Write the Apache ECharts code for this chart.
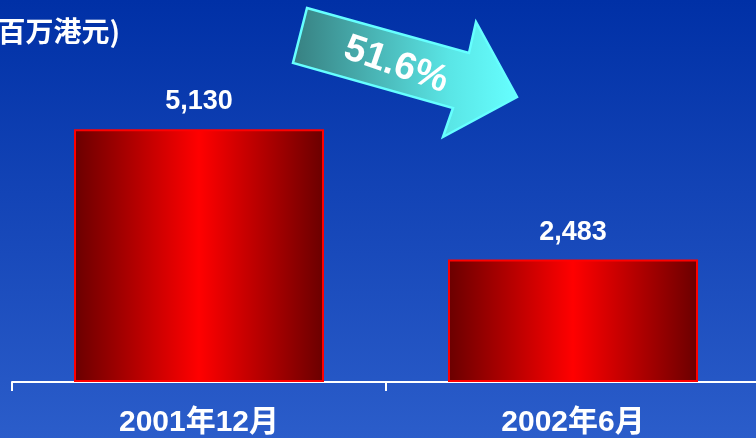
<!DOCTYPE html>
<html><head><meta charset="utf-8">
<script src="https://cdn.jsdelivr.net/npm/echarts@6/dist/echarts.min.js"></script>
<style>html,body{margin:0;padding:0;}#c{width:756px;height:438px;}</style>
</head><body><div id="c"></div>
<script>
var categories = ['2001年12月', '2002年6月'];
var values = [5130, 2483];
var titleText = '(百万港元)';
var changeText = '51.6%';

var chart = echarts.init(document.getElementById('c'));
var barGrad = new echarts.graphic.LinearGradient(0, 0, 1, 0, [
  {offset: 0, color: '#6a0000'},
  {offset: 0.5, color: '#ff0000'},
  {offset: 1, color: '#6a0000'}
]);
chart.setOption({
  animation: false,
  backgroundColor: new echarts.graphic.LinearGradient(0, 0, 0, 1, [
    {offset: 0, color: '#0030a6'},
    {offset: 1, color: '#2b5dca'}
  ]),
  grid: {left: 12, width: 748, top: 37, bottom: 56, containLabel: false, outerBoundsMode: 'none'},
  xAxis: {
    type: 'category', data: categories,
    axisLine: {lineStyle: {color: '#ffffff', width: 2}},
    axisTick: {show: true, length: 9, lineStyle: {color: '#ffffff', width: 2}},
    axisLabel: {color: '#ffffff', fontSize: 30, fontWeight: 'bold', margin: 26,
      fontFamily: 'Liberation Sans, Noto Sans CJK SC'}
  },
  yAxis: {type: 'value', min: 0, max: 7000, show: false, splitLine: {show: false}},
  series: [{
    type: 'bar', data: values, barWidth: 250,
    itemStyle: {color: barGrad, borderColor: '#ff0000', borderWidth: 2},
    label: {show: true, position: 'top', distance: 14, color: '#ffffff', fontSize: 27,
      fontWeight: 'bold', fontFamily: 'Liberation Sans',
      formatter: function(p){ return p.value.toLocaleString('en-US'); }}
  }],
  graphic: [
    {type: 'text', left: -13, top: 17, style: {text: titleText, fill: '#ffffff', fontSize: 28,
      fontWeight: 'bold', fontFamily: 'Noto Sans CJK SC', textShadowColor: '#000000', textShadowOffsetX: 2, textShadowOffsetY: 2, textShadowBlur: 0}},
    {type: 'polygon', shape: {points: [[307,8],[469,53],[476,22],[517,97],[443,137],[453,108],[293,63]]},
      style: {fill: new echarts.graphic.LinearGradient(0, 0, 1, 0, [
        {offset: 0, color: '#377f80'}, {offset: 0.7, color: '#5ae6e6'}, {offset: 1, color: '#66ffff'}]),
        stroke: '#66ffff', lineWidth: 2.5}},
    {type: 'text', x: 396, y: 65, rotation: -19 * Math.PI / 180,
      style: {text: changeText, fill: '#ffffff', fontSize: 38, fontWeight: 'bold', fontFamily: 'Liberation Sans',
        align: 'center', verticalAlign: 'middle', textShadowColor: '#111111', textShadowOffsetX: 2, textShadowOffsetY: 2, textShadowBlur: 0}}
  ]
});
</script></body></html>
